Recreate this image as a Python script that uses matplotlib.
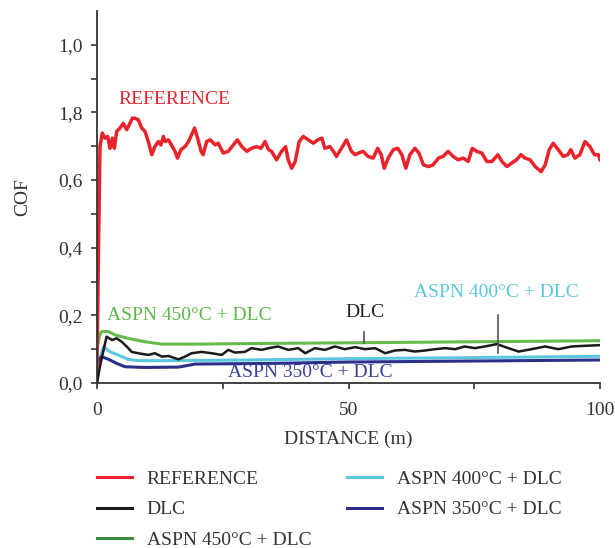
import matplotlib.pyplot as plt
from matplotlib.lines import Line2D

plt.rcParams['font.family'] = ['Liberation Serif', 'DejaVu Serif']

# --- data ---
ref_d = [0, 0.3, 0.6, 1.06, 1.59, 2.12, 2.58, 3.05, 3.45, 3.91,
         4.57, 5.24, 5.9, 6.56, 7.02, 7.55, 8.22, 8.88, 9.54, 10.2,
         10.9, 11.5, 12.2, 12.7, 13.2, 13.6, 14.2, 14.8, 15.5, 16.0,
         16.7, 17.5, 18.2, 18.8, 19.4, 20.0, 20.7, 21.1, 21.8, 22.5,
         23.5, 24.1, 25.1, 26.1, 27.1, 27.9, 28.8, 29.8, 30.7, 31.7,
         32.6, 33.4, 34.1, 34.7, 35.7, 36.7, 37.5, 38.0, 38.7, 39.4,
         40.2, 41.0, 42.0, 43.0, 43.9, 44.7, 45.3, 46.3, 47.0, 47.6,
         48.6, 49.6, 50.6, 51.3, 52.0, 52.9, 53.9, 54.9, 55.8, 56.5,
         57.1, 57.9, 58.9, 59.8, 60.6, 61.4, 62.2, 63.2, 64.0, 64.9,
         65.9, 66.8, 67.9, 68.8, 69.8, 70.8, 71.8, 72.8, 73.8, 74.6,
         75.5, 76.5, 77.5, 78.5, 79.7, 80.5, 81.5, 82.4, 83.4, 84.3,
         85.1, 86.1, 87.1, 88.3, 89.1, 89.9, 90.7, 91.7, 92.7, 93.6,
         94.2, 95.0, 96.0, 97.0, 98.0, 98.9, 99.7, 100]
ref_cof = [0.05, 0.40, 0.70, 0.739, 0.724, 0.729, 0.694, 0.724, 0.694, 0.744,
           0.754, 0.768, 0.749, 0.768, 0.783, 0.783, 0.778, 0.754, 0.744, 0.714,
           0.675, 0.699, 0.714, 0.704, 0.729, 0.714, 0.719, 0.704, 0.685, 0.665,
           0.690, 0.699, 0.714, 0.734, 0.754, 0.724, 0.685, 0.675, 0.714, 0.719,
           0.704, 0.709, 0.680, 0.685, 0.704, 0.719, 0.699, 0.685, 0.694, 0.699,
           0.694, 0.714, 0.690, 0.685, 0.660, 0.685, 0.699, 0.660, 0.635, 0.655,
           0.714, 0.729, 0.719, 0.709, 0.719, 0.724, 0.694, 0.699, 0.685, 0.670,
           0.694, 0.719, 0.685, 0.675, 0.680, 0.685, 0.670, 0.665, 0.694, 0.675,
           0.635, 0.665, 0.690, 0.694, 0.675, 0.635, 0.675, 0.694, 0.680, 0.645,
           0.640, 0.645, 0.665, 0.670, 0.685, 0.670, 0.660, 0.665, 0.655, 0.694,
           0.685, 0.680, 0.655, 0.655, 0.675, 0.655, 0.640, 0.650, 0.660, 0.675,
           0.665, 0.660, 0.640, 0.625, 0.645, 0.690, 0.709, 0.690, 0.670, 0.675,
           0.690, 0.665, 0.675, 0.714, 0.699, 0.675, 0.675, 0.660]

dlc_d = [0, 0.6, 1.9, 3.0, 3.9, 4.9, 5.9, 6.9, 8.2, 10.2, 11.5, 12.9, 14.2, 16.2, 17.5, 18.8,
         20.8, 22.8, 24.8, 26.1, 27.4, 29.4, 30.7, 32.7, 34.1, 36.0, 38.0, 40.0, 41.4, 43.3,
         45.3, 47.3, 49.3, 51.3, 53.3, 55.3, 57.3, 59.2, 61.2, 63.2, 65.2, 67.2, 69.2, 71.2,
         73.1, 75.1, 77.1, 79.5, 81.8, 83.8, 86.4, 89.1, 91.7, 94.4, 97.0, 100]
dlc_cof = [0.0, 0.05, 0.137, 0.127, 0.132, 0.122, 0.108, 0.092, 0.088, 0.083, 0.088, 0.078,
           0.080, 0.070, 0.078, 0.088, 0.092, 0.088, 0.083, 0.098, 0.090, 0.092, 0.103, 0.098,
           0.103, 0.108, 0.098, 0.103, 0.088, 0.103, 0.098, 0.108, 0.100, 0.106, 0.100, 0.103,
           0.088, 0.096, 0.098, 0.093, 0.096, 0.100, 0.103, 0.100, 0.108, 0.103, 0.108, 0.115,
           0.103, 0.093, 0.100, 0.108, 0.100, 0.108, 0.110, 0.112]

a450_d = [0, 0.5, 0.9, 2.3, 3.6, 6.2, 9.5, 12.9, 20, 33, 51.3, 76, 100]
a450_cof = [0.10, 0.14, 0.152, 0.152, 0.142, 0.132, 0.122, 0.115, 0.115, 0.117, 0.119, 0.122, 0.125]

a400_d = [0, 0.5, 1.3, 2.6, 4.2, 6.2, 8.2, 13, 30, 50, 75, 100]
a400_cof = [0.0, 0.07, 0.107, 0.092, 0.083, 0.070, 0.066, 0.066, 0.068, 0.072, 0.075, 0.079]

a350_d = [0, 0.9, 2.3, 3.9, 5.6, 9.5, 16.2, 19.5, 35, 50, 75, 100]
a350_cof = [0.06, 0.078, 0.070, 0.058, 0.048, 0.046, 0.047, 0.056, 0.058, 0.062, 0.065, 0.068]

y_ticks = [0.0, 0.2, 0.4, 0.6, 0.8, 1.0]
y_labels = ['0,0', '0,2', '0,4', '0,6', '1,8', '1,0']
x_ticks = [0, 50, 100]

c_ref = '#e8232b'
c_dlc = '#1a1a1a'
c_450 = '#66bb4c'
c_400 = '#5cc6de'
c_350 = '#2c2f8a'

fig = plt.figure(figsize=(6.15, 5.48), dpi=100)
ax = fig.add_axes([97/615, 1 - 383/548, 503/615, 372/548])

ax.plot(a450_d, a450_cof, color=c_450, lw=2.2)
ax.plot(a400_d, a400_cof, color=c_400, lw=2.2)
ax.plot(a350_d, a350_cof, color=c_350, lw=2.2)
ax.plot(dlc_d, dlc_cof, color=c_dlc, lw=1.8)
ax.plot(ref_d, ref_cof, color=c_ref, lw=2.5)

ax.set_xlim(0, 100)
ax.set_ylim(0, 1.1)
ax.set_yticks(y_ticks)
ax.set_yticklabels(y_labels)
ax.set_yticks([0.1, 0.3, 0.5, 0.7, 0.9], minor=True)
ax.set_xticks(x_ticks)
ax.set_xticks([25, 75], minor=True)
for s in ['top', 'right']:
    ax.spines[s].set_visible(False)
for s in ['left', 'bottom']:
    ax.spines[s].set_color('#333333')
    ax.spines[s].set_linewidth(1.3)
ax.tick_params(which='both', colors='#333333', width=1.2, length=4, labelsize=14)
ax.tick_params(axis='y', pad=6)
ax.tick_params(axis='x', pad=10)

ax.set_xlabel('DISTANCE (m)', fontsize=14, color='#333333', labelpad=8)
ax.set_ylabel('COF', fontsize=14, color='#333333', labelpad=20)

# labels on the curves
ax.text(4.2, 0.837, 'REFERENCE', color=c_ref, fontsize=14, va='center')
ax.text(2.0, 0.201, 'ASPN 450°C + DLC', color='#5cb848', fontsize=14, va='center')
ax.text(49.3, 0.207, 'DLC', color='#222222', fontsize=14, va='center')
ax.text(63.0, 0.269, 'ASPN 400°C + DLC', color='#5cc6de', fontsize=14, va='center')
ax.text(26.0, 0.030, 'ASPN 350°C + DLC', color='#3b3da0', fontsize=14, va='center')
ax.plot([53.1, 53.1], [0.151, 0.118], color='#555555', lw=1.2)
ax.plot([79.7, 79.7], [0.201, 0.089], color='#555555', lw=1.2)

handles = [Line2D([], [], color=c_ref, lw=2.2),
           Line2D([], [], color=c_dlc, lw=2.2),
           Line2D([], [], color='#3d8c3d', lw=2.2),
           Line2D([], [], color=c_400, lw=2.2),
           Line2D([], [], color=c_350, lw=2.2)]
names = ['REFERENCE', 'DLC', 'ASPN 450°C + DLC', 'ASPN 400°C + DLC', 'ASPN 350°C + DLC']
leg = fig.legend(handles, names, loc='upper left', bbox_to_anchor=(97/615, 1 - 470/548),
                 ncol=2, frameon=False, fontsize=14, handlelength=1.8, handletextpad=0.75,
                 columnspacing=1.85, labelspacing=0.68, borderpad=0, borderaxespad=0)
for t in leg.get_texts():
    t.set_color('#333333')

fig.savefig('out.png', dpi=100)
